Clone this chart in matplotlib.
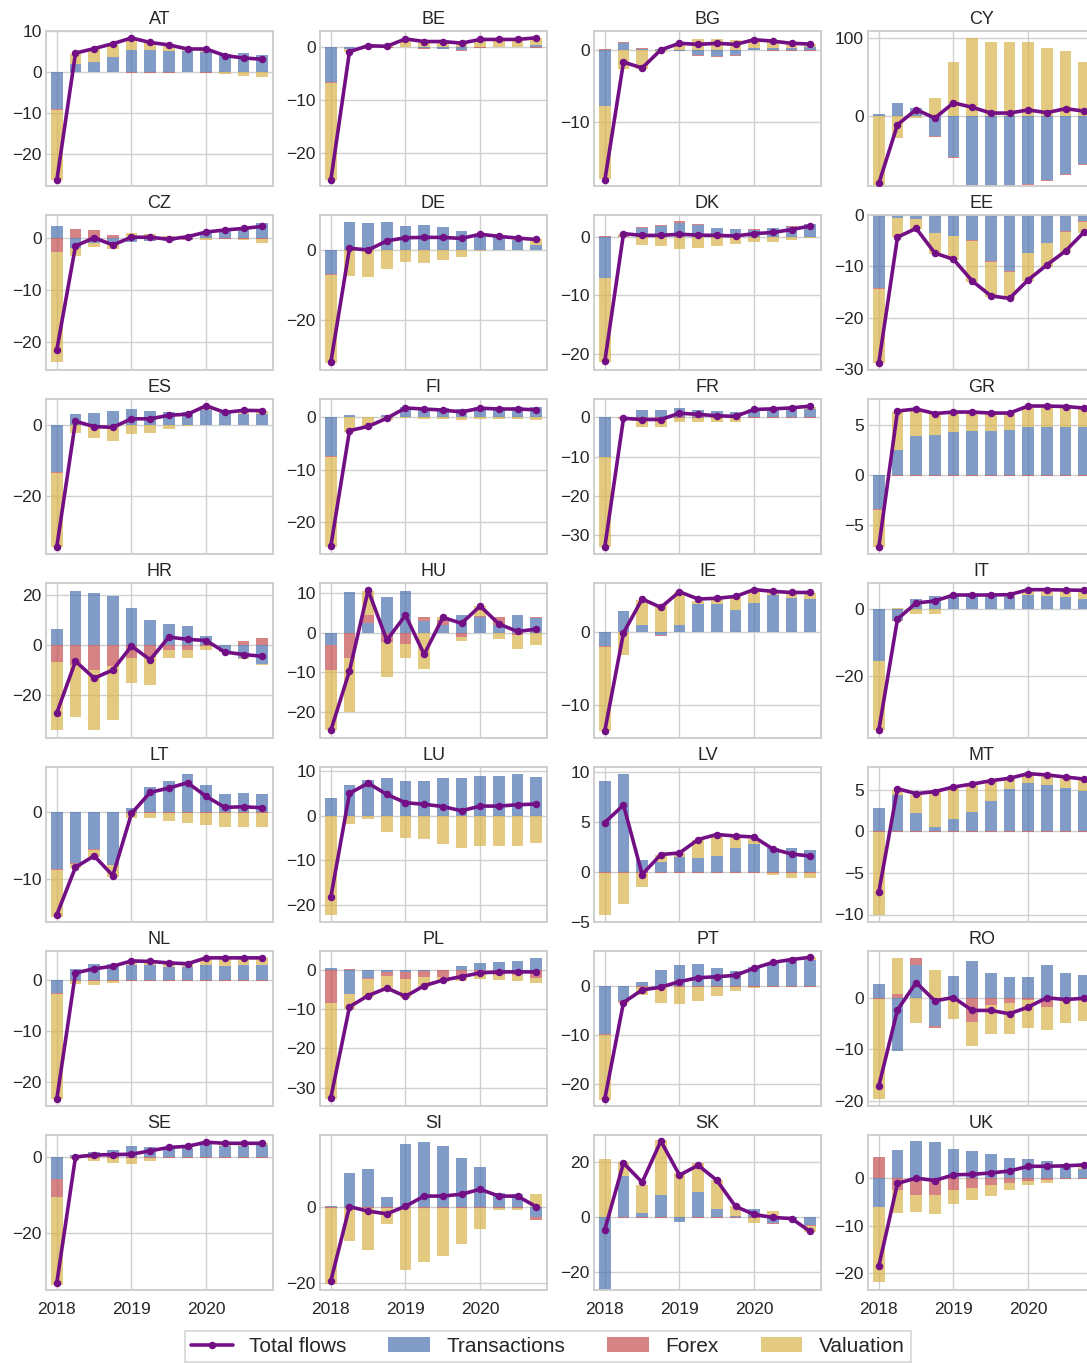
import numpy as np
import matplotlib
matplotlib.use('Agg')
import matplotlib.pyplot as plt
from matplotlib.lines import Line2D
from matplotlib.patches import Patch

plt.style.use('seaborn-v0_8-whitegrid')
plt.rcParams['font.family'] = ['Liberation Sans', 'DejaVu Sans']

countries = ['AT', 'BE', 'BG', 'CY', 'CZ', 'DE', 'DK', 'EE', 'ES', 'FI', 'FR', 'GR',
             'HR', 'HU', 'IE', 'IT', 'LT', 'LU', 'LV', 'MT', 'NL', 'PL', 'PT', 'RO',
             'SE', 'SI', 'SK', 'UK']
quarters = ['2018Q1', '2018Q2', '2018Q3', '2018Q4', '2019Q1', '2019Q2', '2019Q3', '2019Q4',
            '2020Q1', '2020Q2', '2020Q3', '2020Q4']
year_labels = ['2018', '2019', '2020']
year_positions = [0, 4, 8]

transactions = {
    'AT': [-9.0, 2.0, 2.5, 3.7, 5.4, 5.3, 5.2, 5.0, 4.9, 4.4, 4.5, 4.2],
    'BE': [-6.6, -0.3, 0.1, 0.1, 0.1, -0.2, -0.3, -0.5, 0.1, 0.1, 0.1, 0.5],
    'BG': [-7.7, 1.0, 0.1, 0.1, -0.1, -0.7, -0.8, -0.7, 0.2, 0.3, 0.3, 0.4],
    'CY': [1.7, 16.2, 9.6, -26.3, -53.5, -90, -90, -90, -88, -83, -75, -63],
    'CZ': [2.3, -1.8, -1.0, -1.0, -0.7, -0.5, -0.5, -0.2, 1.2, 1.8, 2.0, 2.9],
    'DE': [-6.95, 8.0, 7.7, 8.0, 6.9, 7.1, 6.6, 5.4, 4.7, 3.8, 2.8, 1.5],
    'DK': [-7.0, 0.1, 1.6, 1.9, 2.5, 2.1, 1.5, 1.4, 1.3, 1.6, 1.8, 2.25],
    'EE': [-14.2, -0.5, -0.7, -3.4, -4.0, -4.9, -9.0, -10.9, -7.3, -5.4, -3.2, -1.2],
    'ES': [-13.4, 3.1, 3.4, 4.0, 4.5, 3.9, 3.6, 3.5, 4.2, 3.3, 3.2, 3.2],
    'FI': [-7.5, 0.4, 0.05, 0.3, 1.9, 1.7, 1.6, 1.5, 1.9, 1.8, 1.8, 1.9],
    'FR': [-10.0, 0.05, 1.9, 1.9, 2.2, 1.85, 1.6, 1.3, 2.0, 2.1, 2.4, 2.0],
    'GR': [-3.4, 2.5, 3.9, 4.05, 4.35, 4.4, 4.4, 4.5, 4.85, 4.85, 4.85, 4.85],
    'HR': [6.7, 21.9, 21.0, 19.9, 15.1, 10.3, 8.7, 7.75, 3.9, -2.1, -4.9, -7.35],
    'HU': [-3.0, 10.3, 2.5, 9.05, 10.6, 2.85, 2.0, 4.5, 4.0, 2.0, 4.5, 3.6],
    'IE': [-1.97, 2.9, 0.9, -0.45, 0.9, 3.85, 3.75, 3.0, 3.95, 5.1, 4.7, 4.5],
    'IT': [-15.5, -3.3, 3.0, 3.9, 4.1, 3.9, 3.7, 3.5, 4.2, 3.8, 3.7, 3.1],
    'LT': [-8.5, -7.6, -5.45, -7.8, 0.6, 3.85, 4.7, 5.8, 4.1, 2.7, 2.9, 2.7],
    'LU': [3.9, 6.8, 7.95, 8.4, 7.7, 7.7, 8.4, 8.4, 8.85, 8.85, 9.3, 8.6],
    'LV': [9.15, 9.85, 1.2, 1.0, 1.55, 1.4, 1.6, 2.4, 2.85, 2.45, 2.4, 2.2],
    'MT': [2.8, 4.4, 2.2, 0.55, 1.5, 2.35, 3.6, 5.05, 5.8, 5.5, 5.2, 4.8],
    'NL': [-2.5, 2.2, 3.25, 3.3, 3.1, 3.0, 2.7, 2.7, 3.0, 2.9, 3.1, 3.1],
    'PL': [0.35, -6.3, -2.2, -0.7, -0.7, -0.3, -0.2, 0.9, 1.6, 1.9, 2.2, 2.8],
    'PT': [-9.8, -2.9, 0.97, 3.3, 4.5, 4.7, 3.9, 3.2, 4.1, 4.8, 5.4, 5.35],
    'RO': [2.7, -10.4, 6.2, -5.6, 4.1, 7.0, 4.65, 3.9, 3.9, 6.2, 4.7, 4.4],
    'SE': [-5.8, 0.5, 1.5, 2.0, 3.0, 2.7, 2.5, 2.5, 3.5, 3.0, 3.1, 3.2],
    'SI': [0.5, 9.1, 10.1, 2.7, 16.8, 17.3, 16.3, 13.1, 10.7, 3.7, 3.5, -2.5],
    'SK': [-27.0, 15.0, 1.8, 8.0, -1.5, 9.2, 2.9, 0.5, 2.9, -2.2, -0.5, -2.9],
    'UK': [-6.0, 6.0, 7.9, 7.7, 6.2, 5.7, 5.1, 4.3, 4.0, 3.6, 2.5, 2.0],
}

forex = {
    'AT': [-0.2, -0.1, -0.1, -0.1, -0.15, -0.15, -0.15, -0.1, -0.15, -0.1, -0.1, -0.1],
    'BE': [-0.1, -0.1, -0.1, -0.1, 0.05, -0.1, -0.1, -0.1, -0.1, 0.05, 0.05, -0.1],
    'BG': [0.1, 0.1, 0.1, -0.05, -0.1, -0.1, -0.15, -0.1, -0.05, -0.1, -0.1, -0.1],
    'CY': [-0.3, -0.5, -0.3, -1.0, -1.0, -0.5, -0.5, -0.5, -1.0, -1.0, -1.0, -1.0],
    'CZ': [-2.6, 1.8, 1.6, 0.65, -0.05, -0.05, -0.1, -0.05, 0.1, -0.1, -0.1, -0.1],
    'DE': [-0.2, -0.1, -0.1, -0.1, -0.1, -0.1, -0.1, -0.1, -0.1, -0.1, -0.1, -0.1],
    'DK': [0.2, 0.05, 0.1, 0.1, 0.2, 0.1, 0.1, 0.05, 0.05, 0.05, 0.05, 0.05],
    'EE': [-0.1, -0.1, -0.1, -0.1, -0.1, -0.1, -0.15, -0.1, -0.1, -0.1, -0.1, -0.1],
    'ES': [-0.1, -0.1, -0.1, -0.1, -0.1, -0.1, -0.1, -0.1, -0.1, -0.1, -0.1, -0.1],
    'FI': [-0.1, -0.05, -0.05, -0.05, -0.05, -0.05, -0.05, -0.05, -0.05, -0.05, -0.05, -0.05],
    'FR': [-0.1, -0.1, -0.1, -0.1, -0.1, -0.1, -0.1, -0.1, -0.1, -0.1, -0.1, -0.1],
    'GR': [-0.05, -0.05, -0.05, -0.05, -0.05, -0.05, -0.05, -0.05, -0.05, -0.05, -0.05, -0.05],
    'HR': [-6.55, -8.0, -9.76, -8.3, -5.2, -4.5, -1.7, -1.7, -0.3, -0.4, 1.9, 3.1],
    'HU': [-6.3, -6.45, 2.0, -2.4, -2.9, 1.0, 1.2, -1.2, 0.1, 2.0, -0.6, 0.3],
    'IE': [-0.1, -0.05, -0.05, -0.1, -0.05, -0.05, -0.05, -0.05, -0.05, -0.05, -0.05, -0.05],
    'IT': [-0.1, -0.3, -0.05, -0.05, -0.05, -0.05, -0.05, -0.05, -0.05, -0.05, -0.05, -0.05],
    'LT': [-0.1, -0.1, -0.1, -0.1, -0.1, -0.1, -0.1, -0.1, -0.1, -0.1, -0.1, -0.1],
    'LU': [-0.1, -0.1, -0.1, -0.1, -0.1, -0.1, -0.1, -0.1, -0.1, -0.1, -0.1, -0.1],
    'LV': [-0.05, -0.05, -0.05, -0.05, -0.05, -0.05, -0.05, -0.05, -0.05, -0.05, -0.05, -0.05],
    'MT': [-0.05, -0.05, -0.05, -0.05, -0.05, -0.05, -0.05, -0.05, -0.05, -0.05, -0.05, -0.05],
    'NL': [-0.1, -0.05, -0.05, -0.05, -0.05, -0.05, -0.05, -0.05, -0.05, -0.05, -0.05, -0.05],
    'PL': [-8.5, 0.2, -0.3, -0.9, -1.8, -1.5, -1.6, -1.8, -1.0, -1.4, -1.5, -2.05],
    'PT': [-0.2, -0.2, -0.05, -0.05, -0.05, -0.05, -0.05, -0.05, -0.05, -0.05, -0.05, -0.05],
    'RO': [-0.2, 0.7, 1.4, -0.3, -0.1, -4.7, -1.5, -1.1, -0.5, -1.8, -0.4, -0.1],
    'SE': [-4.7, -0.1, -0.1, -0.1, -0.1, -0.1, -0.1, -0.1, -0.1, -0.1, -0.1, -0.1],
    'SI': [-0.2, -0.2, -0.2, -0.2, -0.2, -0.2, -0.2, -0.2, -0.2, -0.2, -0.2, -0.8],
    'SK': [-0.3, -0.3, -0.3, -0.3, -0.3, -0.3, -0.3, -0.3, -0.3, -0.3, -0.3, -0.3],
    'UK': [4.5, -2.5, -3.6, -3.5, -2.5, -2.0, -1.5, -1.0, -0.5, -0.3, -0.2, -0.1],
}

valuation = {
    'AT': [-17.3, 2.4, 3.0, 2.8, 2.7, 2.0, 1.4, 0.7, 0.6, -0.4, -1.0, -1.2],
    'BE': [-18.4, -0.5, 0.3, 0.2, 1.2, 1.1, 1.2, 1.1, 1.2, 1.2, 1.2, 1.2],
    'BG': [-10.2, -2.7, -2.7, -0.2, 1.0, 1.45, 1.55, 1.4, 1.2, 1.0, 0.5, 0.4],
    'CY': [-89.0, -28.0, -3.0, 22.8, 68.9, 100.0, 95.0, 95.0, 95.0, 87.3, 83.3, 69.0],
    'CZ': [-21.3, -1.55, -0.7, -1.0, 0.95, 0.75, 0.4, 0.45, -0.3, -0.1, -0.2, -0.75],
    'DE': [-25.2, -7.3, -7.6, -5.3, -3.2, -3.6, -2.8, -1.8, -0.2, 0.1, 0.5, 1.5],
    'DK': [-14.4, 0.4, -1.27, -1.6, -2.1, -1.8, -1.45, -1.2, -0.75, -0.75, -0.5, -0.2],
    'EE': [-14.4, -3.7, -2.0, -4.0, -4.6, -8.0, -6.7, -5.3, -5.5, -4.6, -3.9, -2.2],
    'ES': [-21.1, -2.2, -3.5, -4.6, -2.6, -2.3, -1.2, -0.3, 1.2, 0.3, 0.9, 0.8],
    'FI': [-17.0, -2.9, -1.75, -0.5, -0.2, -0.3, -0.4, -0.55, -0.25, -0.35, -0.4, -0.5],
    'FR': [-22.9, -0.4, -2.4, -2.4, -1.1, -1.1, -1.1, -1.1, -0.2, 0.1, 0.05, 0.6],
    'GR': [-3.7, 3.8, 2.6, 2.15, 1.95, 1.9, 1.8, 1.7, 2.05, 2.05, 2.0, 1.85],
    'HR': [-27.3, -20.6, -24.4, -21.5, -10.0, -11.3, -3.2, -3.5, -1.7, -0.2, -0.5, -0.4],
    'HU': [-15.3, -13.45, 6.1, -8.7, -3.4, -9.05, 0.7, -1.0, 2.6, -1.7, -3.4, -3.0],
    'IE': [-11.6, -3.2, 3.5, 3.85, 4.5, 0.4, 0.7, 1.8, 1.6, 0.4, 0.6, 0.8],
    'IT': [-20.8, 0.3, -1.4, -1.5, 0.1, 0.3, 0.5, 0.8, 1.6, 2.0, 2.0, 2.5],
    'LT': [-7.0, -0.6, -1.1, -1.7, -0.8, -0.8, -1.2, -1.5, -1.75, -2.1, -2.1, -2.1],
    'LU': [-22.1, -1.8, -0.7, -3.65, -4.8, -5.15, -6.3, -7.2, -6.6, -6.6, -6.75, -6.05],
    'LV': [-4.25, -3.1, -1.4, 0.7, 0.35, 1.85, 2.0, 1.2, 0.5, -0.2, -0.5, -0.5],
    'MT': [-10.05, 0.6, 2.2, 4.15, 3.8, 3.25, 2.4, 1.3, 1.1, 1.25, 1.3, 1.4],
    'NL': [-20.8, -0.7, -0.9, -0.4, 0.5, 0.6, 0.7, 0.5, 1.5, 1.5, 1.3, 1.3],
    'PL': [-24.4, -3.6, -4.5, -3.6, -4.7, -2.6, -1.4, -1.1, -1.5, -1.2, -1.3, -1.35],
    'PT': [-13.3, -0.2, -1.7, -3.4, -3.6, -3.0, -1.95, -0.97, -0.2, 0.1, 0.15, 0.65],
    'RO': [-19.5, 7.0, -5.0, 5.25, -4.1, -4.7, -5.6, -6.0, -5.4, -4.5, -4.6, -4.5],
    'SE': [-23.5, -0.4, -1.0, -1.5, -1.8, -1.0, 0.2, 0.4, 0.5, 0.7, 0.6, 0.5],
    'SI': [-20.1, -8.6, -11.0, -4.1, -16.3, -14.2, -12.6, -9.4, -5.4, -0.5, -0.5, 3.5],
    'SK': [21.2, 5.0, 9.9, 20.2, 16.1, 10.6, 10.6, 3.5, -1.8, 2.2, -0.2, -2.2],
    'UK': [-16.0, -4.9, -3.6, -4.0, -3.0, -2.7, -2.3, -1.5, -1.0, -0.8, 0.3, 0.8],
}

total_flows = {
    'AT': [-26.5, 4.6, 5.7, 6.9, 8.3, 7.2, 6.6, 5.6, 5.6, 4.0, 3.4, 3.1],
    'BE': [-25.2, -0.8, 0.3, 0.2, 1.6, 1.1, 1.1, 0.8, 1.5, 1.5, 1.5, 1.8],
    'BG': [-18.0, -1.7, -2.5, 0.0, 0.9, 0.75, 0.9, 0.75, 1.4, 1.2, 0.9, 0.8],
    'CY': [-87.5, -11.5, 8.0, -3.0, 16.7, 11.0, 3.5, 3.5, 7.5, 4.0, 9.2, 6.0],
    'CZ': [-21.6, -1.5, 0.1, -1.3, 0.2, 0.2, -0.2, 0.3, 1.2, 1.6, 1.9, 2.3],
    'DE': [-32.1, 0.5, 0.0, 2.6, 3.5, 3.6, 3.6, 3.3, 4.5, 3.9, 3.4, 3.0],
    'DK': [-21.3, 0.6, 0.3, 0.3, 0.5, 0.35, 0.3, 0.2, 0.6, 0.8, 1.3, 1.9],
    'EE': [-28.7, -4.3, -2.6, -7.4, -8.6, -12.8, -15.7, -16.2, -12.6, -9.7, -7.0, -3.3],
    'ES': [-34.4, 1.0, -0.5, -0.7, 1.7, 1.7, 2.7, 3.0, 5.4, 3.5, 4.1, 4.0],
    'FI': [-24.5, -2.6, -1.8, -0.25, 1.7, 1.5, 1.3, 0.95, 1.65, 1.5, 1.5, 1.35],
    'FR': [-32.9, -0.3, -0.6, -0.6, 1.0, 0.7, 0.35, 0.2, 1.95, 2.1, 2.35, 2.8],
    'GR': [-7.15, 6.4, 6.6, 6.15, 6.3, 6.3, 6.2, 6.2, 6.9, 6.9, 6.85, 6.7],
    'HR': [-27.1, -6.4, -13.2, -9.9, -0.3, -5.8, 3.3, 2.4, 1.9, -2.7, -3.7, -4.4],
    'HU': [-24.6, -9.6, 10.7, -1.9, 4.4, -5.45, 3.85, 2.35, 6.7, 2.2, 0.3, 0.9],
    'IE': [-13.6, -0.15, 4.5, 3.35, 5.5, 4.5, 4.6, 4.85, 5.8, 5.55, 5.4, 5.4],
    'IT': [-36.3, -3.0, 1.8, 2.4, 4.2, 4.2, 4.2, 4.3, 5.8, 5.8, 5.7, 5.6],
    'LT': [-15.3, -8.2, -6.5, -9.45, -0.15, 3.0, 3.65, 4.45, 2.4, 0.75, 0.85, 0.7],
    'LU': [-18.2, 4.95, 7.2, 4.7, 2.85, 2.5, 2.0, 1.05, 2.1, 2.1, 2.4, 2.55],
    'LV': [4.95, 6.7, -0.25, 1.75, 1.9, 3.25, 3.75, 3.6, 3.5, 2.3, 1.8, 1.6],
    'MT': [-7.3, 5.1, 4.5, 4.75, 5.3, 5.65, 6.05, 6.35, 6.9, 6.75, 6.5, 6.25],
    'NL': [-23.3, 1.5, 2.3, 2.8, 3.85, 3.75, 3.45, 3.3, 4.45, 4.45, 4.45, 4.45],
    'PL': [-32.5, -9.45, -6.6, -4.7, -6.8, -4.1, -2.7, -1.8, -0.85, -0.6, -0.6, -0.6],
    'PT': [-23.1, -3.3, -0.7, -0.15, 1.0, 1.8, 2.0, 2.3, 3.75, 4.95, 5.55, 6.0],
    'RO': [-17.1, -2.4, 2.9, -0.65, 0.0, -2.5, -2.5, -3.15, -1.85, -0.05, -0.4, -0.15],
    'SE': [-33.3, 0.1, 0.6, 0.7, 0.8, 1.7, 2.6, 2.9, 4.0, 3.7, 3.7, 3.7],
    'SI': [-19.5, 0.2, -1.0, -1.7, 0.3, 3.0, 3.0, 3.5, 4.8, 3.0, 3.0, 0.2],
    'SK': [-4.4, 19.8, 12.8, 27.8, 15.4, 19.0, 13.5, 4.0, 1.1, 0.0, -0.4, -5.1],
    'UK': [-18.5, -1.1, 0.0, -0.5, 0.7, 0.8, 1.1, 1.5, 2.5, 2.5, 2.6, 2.8],
}

y_limits = {
    'AT': (-27.9, 10.0), 'BE': (-26.3, 3.1), 'BG': (-18.8, 2.6), 'CY': (-90.8, 109.6),
    'CZ': (-25.5, 4.5), 'DE': (-34.3, 10.0), 'DK': (-22.8, 3.8), 'EE': (-30.1, 0.0),
    'ES': (-36.5, 7.3), 'FI': (-26.0, 3.4), 'FR': (-34.7, 4.6), 'GR': (-7.86, 7.6),
    'HR': (-37.2, 25.0), 'HU': (-26.5, 12.5), 'IE': (-14.6, 6.7), 'IT': (-38.7, 7.8),
    'LT': (-16.4, 6.8), 'LU': (-23.7, 10.8), 'LV': (-5.0, 10.5), 'MT': (-10.9, 7.7),
    'NL': (-24.7, 5.8), 'PL': (-34.6, 4.7), 'PT': (-24.6, 7.3), 'RO': (-21.0, 9.0),
    'SE': (-35.2, 5.9), 'SI': (-21.9, 19.2), 'SK': (-26.4, 30.0), 'UK': (-23.6, 9.1),
}

y_ticks = {
    'AT': [-20, -10, 0, 10], 'BE': [-20, -10, 0], 'BG': [-10, 0], 'CY': [0, 100],
    'CZ': [-20, -10, 0], 'DE': [-20, 0], 'DK': [-20, -10, 0], 'EE': [-30, -20, -10, 0],
    'ES': [-20, 0], 'FI': [-20, -10, 0], 'FR': [-30, -20, -10, 0], 'GR': [-5, 0, 5],
    'HR': [-20, 0, 20], 'HU': [-20, -10, 0, 10], 'IE': [-10, 0], 'IT': [-20, 0],
    'LT': [-10, 0], 'LU': [-20, -10, 0, 10], 'LV': [-5, 0, 5, 10], 'MT': [-10, -5, 0, 5],
    'NL': [-20, -10, 0], 'PL': [-30, -20, -10, 0], 'PT': [-20, -10, 0], 'RO': [-20, -10, 0],
    'SE': [-20, 0], 'SI': [-20, 0], 'SK': [-20, 0, 20], 'UK': [-20, -10, 0],
}

series_names = ['Transactions', 'Forex', 'Valuation']
series_colors = ['#4C72B0', '#C44E52', '#D9B44A']
line_color = '#730f85'
bar_alpha = 0.7

W, H = 1087, 1363
fig = plt.figure(figsize=(W / 100, H / 100), dpi=100)

col_left = [46, 320, 594, 868]
ax_w, ax_h = 227, 155
row_top0, row_step = 31, 184

x = np.arange(len(quarters))
for i, c in enumerate(countries):
    r, col = divmod(i, 4)
    top = row_top0 + r * row_step
    ax = fig.add_axes([col_left[col] / W, 1 - (top + ax_h) / H, ax_w / W, ax_h / H])
    pos_base = np.zeros(len(x))
    neg_base = np.zeros(len(x))
    for data, color in zip([transactions, forex, valuation], series_colors):
        vals = np.asarray(data[c], dtype=float)
        bottom = np.where(vals >= 0, pos_base, neg_base)
        ax.bar(x, vals, width=0.62, bottom=bottom, color=color, alpha=bar_alpha,
               linewidth=0, zorder=2)
        pos_base += np.clip(vals, 0, None)
        neg_base += np.clip(vals, None, 0)
    ax.plot(x, total_flows[c], color=line_color, lw=2.6, marker='o', ms=4.4, zorder=5)
    ax.set_xlim(-0.58, 11.58)
    ax.set_ylim(*y_limits[c])
    ax.set_yticks(y_ticks[c])
    ax.set_xticks(year_positions)
    if r == 6:
        ax.set_xticklabels(year_labels, fontsize=12.5)
    else:
        ax.set_xticklabels([])
    ax.tick_params(axis='y', labelsize=12.5, pad=3)
    ax.tick_params(axis='x', pad=9)
    ax.set_title(c, fontsize=13, pad=5, color='#262626')
    ax.grid(True, color='#d0d0d0', lw=1.0)
    for s in ax.spines.values():
        s.set_color('#cccccc')
        s.set_linewidth(1.3)

handles = [Line2D([0], [0], color=line_color, lw=2.6, marker='o', ms=4.4)]
handles += [Patch(facecolor=col, alpha=bar_alpha, linewidth=0) for col in series_colors]
labels = ['Total flows'] + series_names
leg = fig.legend(handles, labels, loc='lower center', bbox_to_anchor=(0.504, -0.007),
                 ncol=4, fontsize=15, frameon=True, fancybox=False,
                 borderpad=0.3, handlelength=2.0, columnspacing=2.0)
leg.get_frame().set_edgecolor('#cccccc')
leg.get_frame().set_linewidth(1.2)

fig.savefig('out.png', dpi=100)
